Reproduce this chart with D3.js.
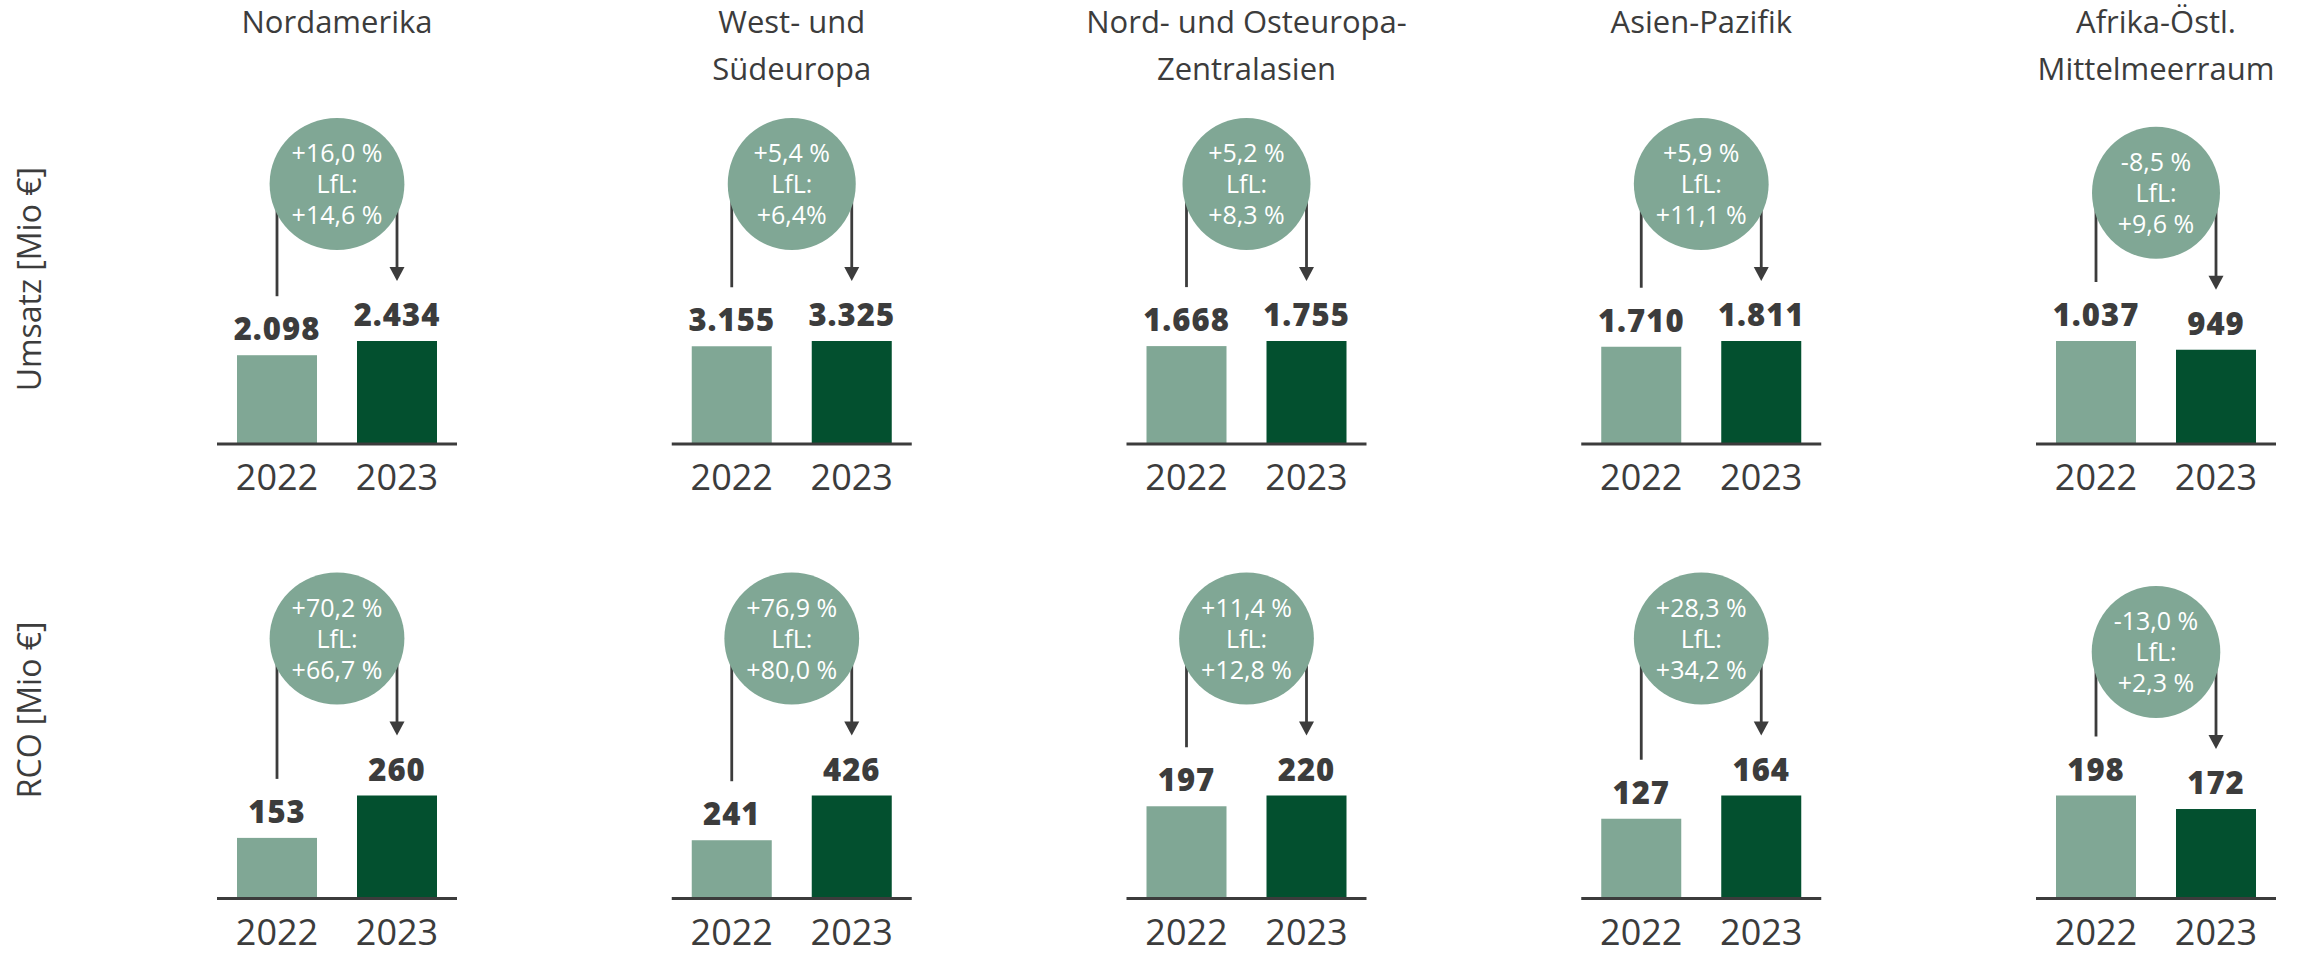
<!DOCTYPE html>
<html>
<head>
<meta charset="utf-8">
<script src="https://cdn.jsdelivr.net/npm/d3@7"></script>
<style>
body { margin: 0; background: #fff; }
text { font-family: "Open Sans", Lato, sans-serif; }
</style>
</head>
<body>
<script>
// data
const regionTitles = [
    ["Nordamerika"],
    ["West- und", "Südeuropa"],
    ["Nord- und Osteuropa-", "Zentralasien"],
    ["Asien-Pazifik"],
    ["Afrika-Östl.", "Mittelmeerraum"]
];
const years = ["2022", "2023"];
const metrics = ["Umsatz [Mio €]", "RCO [Mio €]"];

const umsatz2022 = [2098, 3155, 1668, 1710, 1037];
const umsatz2023 = [2434, 3325, 1755, 1811, 949];
const umsatzChange = ["+16,0 %", "+5,4 %", "+5,2 %", "+5,9 %", "-8,5 %"];
const umsatzLfl = ["+14,6 %", "+6,4%", "+8,3 %", "+11,1 %", "+9,6 %"];

const rco2022 = [153, 241, 197, 127, 198];
const rco2023 = [260, 426, 220, 164, 172];
const rcoChange = ["+70,2 %", "+76,9 %", "+11,4 %", "+28,3 %", "-13,0 %"];
const rcoLfl = ["+66,7 %", "+80,0 %", "+12,8 %", "+34,2 %", "+2,3 %"];

const width = 2300;
const height = 957;

const lightGreen = "#80a795";
const darkGreen = "#03502f";
const textColor = "#3c3c3c";

const svg = d3.select("body").append("svg")
    .attr("width", width)
    .attr("height", height);

// german number format -> 2.098
const de = d3.formatLocale({decimal: ",", thousands: ".", grouping: [3], currency: ["", " €"]});
const fmt = de.format(",d");

// one panel per region, same layout in both rows
const panelX = d3.scaleBand()
    .domain(d3.range(regionTitles.length))
    .range([217, 2276])
    .paddingInner(1 - 240 / 454.75)
    .paddingOuter(0);

const yearX = d3.scaleBand()
    .domain(years)
    .range([0, panelX.bandwidth()])
    .paddingInner(1 / 3)
    .paddingOuter(1 / 6);

const rowBase = d3.scalePoint().domain(d3.range(metrics.length)).range([444, 898.5]);
const barMax = 103;

const rows = [
    {v22: umsatz2022, v23: umsatz2023, change: umsatzChange, lfl: umsatzLfl},
    {v22: rco2022, v23: rco2023, change: rcoChange, lfl: rcoLfl}
];

// region titles
regionTitles.forEach((lines, i) => {
    const t = svg.append("text")
        .attr("text-anchor", "middle")
        .attr("fill", textColor)
        .attr("font-size", 31);
    lines.forEach((l, j) => {
        t.append("tspan")
            .attr("x", panelX(i) + panelX.bandwidth() / 2)
            .attr("y", 33 + j * 47)
            .text(l);
    });
});

// row titles (rotated)
metrics.forEach((m, r) => {
    const base = rowBase(r);
    svg.append("text")
        .attr("transform", `translate(41,${base - 277}) rotate(-90)`)
        .attr("text-anchor", "end")
        .attr("fill", textColor)
        .attr("font-size", 32)
        .text(m);
});

rows.forEach((row, r) => {
    const base = rowBase(r);

    regionTitles.forEach((_, i) => {
        const g = svg.append("g").attr("transform", `translate(${panelX(i)},0)`);
        const vals = [row.v22[i], row.v23[i]];
        const y = d3.scaleLinear()
            .domain([0, d3.max(vals)])
            .range([base, base - barMax]);

        const cx = [yearX("2022") + yearX.bandwidth() / 2, yearX("2023") + yearX.bandwidth() / 2];
        const top22 = y(vals[0]);
        const top23 = y(vals[1]);
        const tip = top23 - 60;
        const cy = tip - 97;

        // connector lines (drawn first, circle covers their top end)
        g.append("line")
            .attr("x1", cx[0]).attr("x2", cx[0])
            .attr("y1", cy).attr("y2", top22 - 59)
            .attr("stroke", textColor)
            .attr("stroke-width", 2.8);
        g.append("line")
            .attr("x1", cx[1]).attr("x2", cx[1])
            .attr("y1", cy).attr("y2", tip - 12)
            .attr("stroke", textColor)
            .attr("stroke-width", 2.8);
        g.append("path")
            .attr("d", `M${cx[1] - 7.5},${tip - 14}L${cx[1] + 7.5},${tip - 14}L${cx[1]},${tip}Z`)
            .attr("fill", textColor);

        // bubble with the change
        const bubble = g.append("g");
        const ell = bubble.append("ellipse")
            .attr("cx", panelX.bandwidth() / 2)
            .attr("cy", cy)
            .attr("ry", 66)
            .attr("fill", lightGreen);
        const bt = bubble.append("text")
            .attr("text-anchor", "middle")
            .attr("fill", "#fff")
            .attr("font-size", 25);
        [row.change[i], "LfL:", row.lfl[i]].forEach((s, k) => {
            bt.append("tspan")
                .attr("x", panelX.bandwidth() / 2)
                .attr("y", cy + 9 + (k - 1) * 31)
                .text(s);
        });
        const tw = bt.node().getBBox().width;
        ell.attr("rx", Math.max(64, tw / 2 + 22));

        // bars
        g.selectAll("rect.bar")
            .data(vals)
            .join("rect")
            .attr("class", "bar")
            .attr("x", (d, k) => yearX(years[k]))
            .attr("y", d => y(d))
            .attr("width", yearX.bandwidth())
            .attr("height", d => base - y(d))
            .attr("fill", (d, k) => k === 0 ? lightGreen : darkGreen);

        // value labels
        g.selectAll("text.val")
            .data(vals)
            .join("text")
            .attr("class", "val")
            .attr("x", (d, k) => cx[k])
            .attr("y", d => y(d) - 15)
            .attr("text-anchor", "middle")
            .attr("font-size", 31)
            .attr("font-weight", 800)
            .attr("letter-spacing", 1)
            .attr("fill", textColor)
            .text(d => fmt(d));

        // baseline
        g.append("line")
            .attr("x1", 0).attr("x2", panelX.bandwidth())
            .attr("y1", base).attr("y2", base)
            .attr("stroke", textColor)
            .attr("stroke-width", 3);

        // year labels
        g.selectAll("text.year")
            .data(years)
            .join("text")
            .attr("class", "year")
            .attr("x", d => yearX(d) + yearX.bandwidth() / 2)
            .attr("y", base + 46)
            .attr("text-anchor", "middle")
            .attr("font-size", 36)
            .attr("fill", textColor)
            .text(d => d);
    });
});
</script>
</body>
</html>
